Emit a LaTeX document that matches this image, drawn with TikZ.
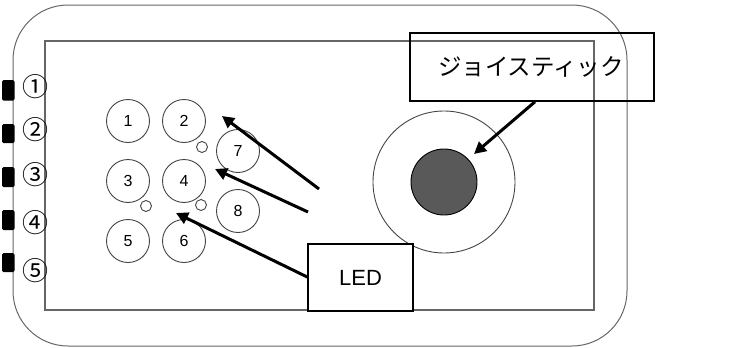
\documentclass[tikz,border=0pt]{standalone}
\usepackage{fontspec}
\setmainfont{Liberation Sans}
\newfontfamily\jpfont{Noto Sans CJK JP}
\usetikzlibrary{arrows.meta}
\definecolor{framegray}{HTML}{666666}
\definecolor{btngray}{HTML}{444444}
\definecolor{knob}{HTML}{595959}
\tikzset{
  btn/.style={circle, draw=btngray, line width=0.9pt, minimum size=43pt, inner sep=0pt, font=\fontsize{16}{16}\selectfont},
  ledc/.style={circle, draw=btngray, line width=0.9pt, minimum size=11pt, inner sep=0pt},
  labelbox/.style={draw=black, line width=1.5pt, inner sep=0pt},
  tab/.style={fill=black, rounded corners=1.5pt},
  pinnum/.style={font=\jpfont\fontsize{26}{26}\selectfont, inner sep=0pt},
  callout/.style={line width=3pt, -{Triangle[length=12pt,width=12pt]}}
}
\begin{document}
\begin{tikzpicture}[x=1pt,y=-1pt]
\useasboundingbox (0,0) rectangle (747,348);
% outer case
\draw[framegray, line width=1pt, rounded corners=55pt] (13,5) rectangle (627,346);
% inner panel
\draw[framegray, line width=1.2pt] (45,41) rectangle (594,310);
% side tabs
\foreach \a/\b in {80/100.5, 124/143, 167/187, 210/230, 253/272}
  \fill[tab] (2,\a) rectangle (14.5,\b);
% pin numbers
\node[pinnum] (p1) at (36,87) {①};
\node[pinnum] (p2) at (36,130) {②};
\node[pinnum] (p3) at (36,175) {③};
\node[pinnum] (p4) at (36,223) {④};
\node[pinnum] (p5) at (36,271) {⑤};
% buttons
\node[btn] (b1) at (128,121) {1};
\node[btn] (b2) at (184,121) {2};
\node[btn] (b7) at (238,151) {7};
\node[btn] (b3) at (128,181) {3};
\node[btn] (b4) at (184,181) {4};
\node[btn] (b8) at (238,211) {8};
\node[btn] (b5) at (128,241) {5};
\node[btn] (b6) at (184,241) {6};
% LEDs
\node[ledc] (l1) at (202,147) {};
\node[ledc] (l2) at (146,206) {};
\node[ledc] (l3) at (201,205) {};
% joystick
\node[circle, draw=btngray, line width=0.9pt, minimum size=142pt, inner sep=0pt] (jring) at (444,182) {};
\node[circle, draw=black, line width=0.9pt, fill=knob, minimum size=66pt, inner sep=0pt] (jknob) at (444,182) {};
% label boxes
\node[labelbox, minimum width=244pt, minimum height=68pt, fill=none] (jlabel) at (532,67) {};
\node[font=\jpfont\fontsize{23.5}{24}\selectfont, inner sep=0pt] (jtext) at (531,67) {ジョイスティック};
\node[labelbox, fill=white, minimum width=105pt, minimum height=67pt, font=\fontsize{22}{22}\selectfont] (led) at (360.5,277.5) {LED};
% arrows
\coordinate (s1) at (319,189);
\coordinate (s2) at (308,212);
\coordinate (t1) at (222,116);
\coordinate (t2) at (215,169);
\coordinate (t3) at (176,213);
\coordinate (jt) at (474,154);
\draw[callout] (s1) -- (t1);
\draw[callout] (s2) -- (t2);
\draw[callout] (led.west |- 0,277) -- (t3);
\draw[callout] (jlabel.south -| 535,0) -- (jt);
\end{tikzpicture}
\end{document}
